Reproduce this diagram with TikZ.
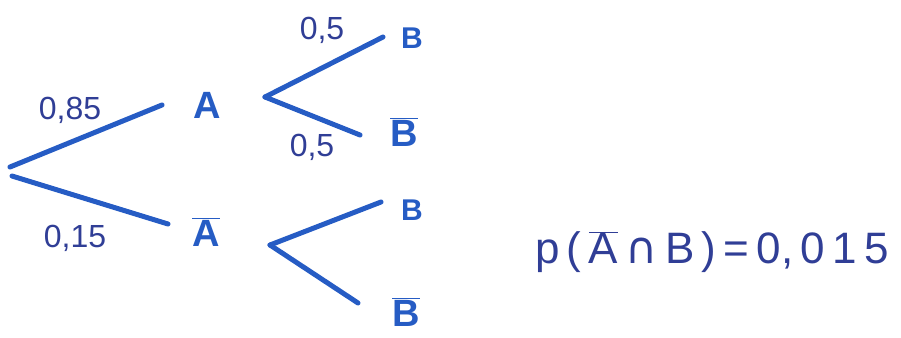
\documentclass[tikz,border=0pt]{standalone}
\usepackage{fontspec}
\setmainfont{Liberation Sans}
\newfontfamily\dvfont{DejaVu Sans}
\definecolor{pen}{RGB}{38,92,196}
\definecolor{ink}{RGB}{48,62,150}
\begin{document}
\begin{tikzpicture}[x=1pt,y=-1pt,
  branch/.style={pen,line width=5pt,line cap=round},
  event/.style={text=pen,font=\fontsize{38}{38}\selectfont\bfseries,inner sep=0pt},
  small/.style={text=pen,font=\fontsize{30}{30}\selectfont\bfseries,inner sep=0pt},
  prob/.style={text=ink,font=\fontsize{32}{32}\selectfont,inner sep=0pt},
  formula/.style={text=ink,font=\fontsize{44}{44}\selectfont,inner sep=0pt}]
\useasboundingbox (0,0) rectangle (901,337);
% root and branch ends
\coordinate (r1) at (10,167);
\coordinate (r2) at (12,176);
\coordinate (a1) at (162,105);
\coordinate (a2) at (168,224);
\coordinate (vA) at (265,97);
\coordinate (vAb) at (270,245);
\coordinate (b1) at (383,37);
\coordinate (b2) at (360,135);
\coordinate (b3) at (381,202);
\coordinate (b4) at (358,303);
% event labels
\node[event] (A) at (207,105) {A};
\node[event] (Ab) at (206,232) {$\overline{\hbox{A}}$};
\node[small] (B1) at (412,38) {B};
\node[event] (B2) at (404,132) {$\overline{\hbox{B}}$};
\node[small] (B3) at (412,210) {B};
\node[event] (B4) at (406,312) {$\overline{\hbox{B}}$};
% branches
\draw[branch] (r1) -- (a1);
\draw[branch] (r2) -- (a2);
\draw[branch] (vA) -- (b1);
\draw[branch] (vA) -- (b2);
\draw[branch] (vAb) -- (b3);
\draw[branch] (vAb) -- (b4);
% probabilities
\node[prob] (p1) at (70,110) {0,85};
\node[prob] (p2) at (75,238) {0,15};
\node[prob] (p3) at (322,30) {0,5};
\node[prob] (p4) at (312,147) {0,5};
% result
\node[formula] (res) at (712,252) {p\,(\,$\overline{\hbox{A}}$\,{\dvfont ∩}\,B\,)\,=\,0,\,0\,1\,5};
\end{tikzpicture}
\end{document}
